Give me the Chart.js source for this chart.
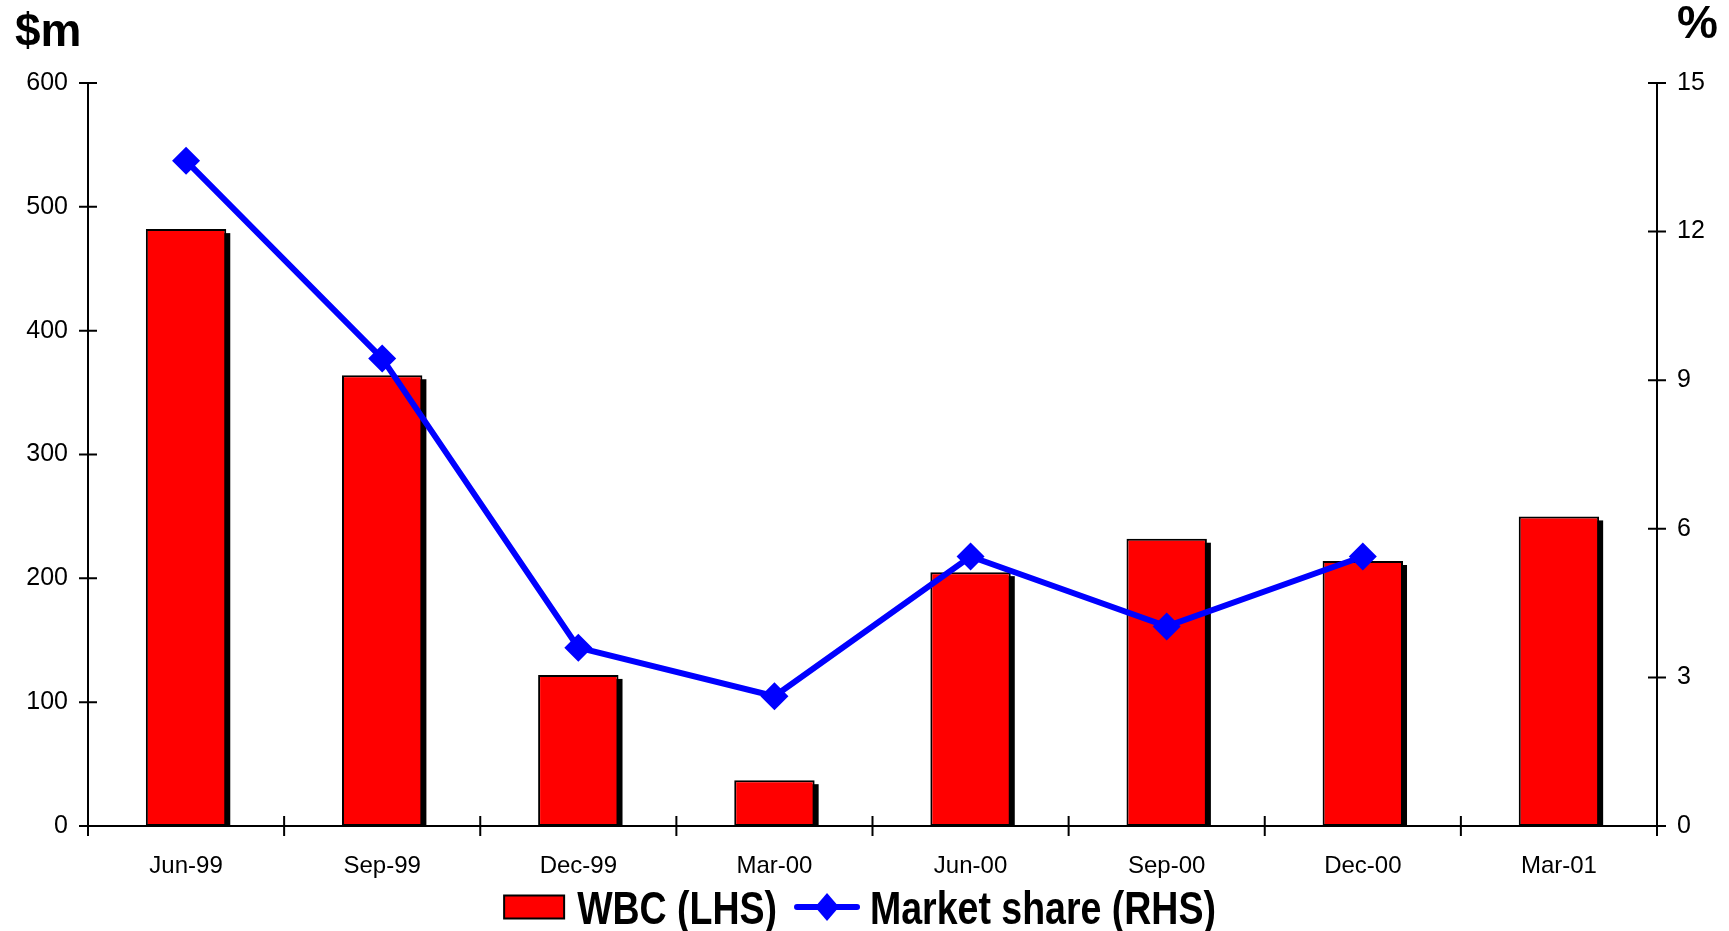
<!DOCTYPE html>
<html>
<head>
<meta charset="utf-8">
<title>WBC and market share</title>
<script src="https://cdn.jsdelivr.net/npm/chart.js@4/dist/chart.umd.min.js"></script>
<style>
  html, body { margin: 0; padding: 0; background: #ffffff; }
  #wrap { width: 1729px; height: 931px; }
</style>
</head>
<body>
<div id="wrap"><canvas id="chart" width="1729" height="931"></canvas></div>
<script>
// Quarter labels along the bottom axis
const categories = ['Jun-99', 'Sep-99', 'Dec-99', 'Mar-00', 'Jun-00', 'Sep-00', 'Dec-00', 'Mar-01'];
// WBC volume, $m (left axis)
const wbcValues = [482, 364, 122, 37, 205, 232, 214, 250];
// Market share, % (right axis); no reading for Mar-01
const marketShare = [13.43, 9.44, 3.6, 2.62, 5.44, 4.03, 5.44, null];
// Axis ranges: [min, max, step]
const leftAxisRange = [0, 600, 100];
const rightAxisRange = [0, 15, 3];
// Axis titles
const leftAxisTitle = '$m';
const rightAxisTitle = '%';

const FONT = '"Liberation Sans", Arial, Helvetica, sans-serif';

// Solid black drop shadow behind each bar, offset down and to the right
const barShadow = {
  id: 'barShadow',
  beforeDatasetDraw(chart, args) {
    if (args.meta.type !== 'bar') return;
    const ctx = chart.ctx;
    const dx = 4, dy = 4;
    ctx.save();
    ctx.fillStyle = '#000000';
    args.meta.data.forEach(el => {
      const p = el.getProps(['x', 'y', 'base', 'width'], true);
      const top = Math.min(p.y, p.base), bottom = Math.max(p.y, p.base);
      ctx.fillRect(p.x - p.width / 2 + dx, top + dy, p.width, bottom - top - dy);
    });
    ctx.restore();
  }
};

// Axis lines with tick marks that cross the line
const axesFrame = {
  id: 'axesFrame',
  afterDatasetsDraw(chart) {
    const { ctx, chartArea: a, scales } = chart;
    ctx.save();
    ctx.strokeStyle = '#000000';
    ctx.lineWidth = 2;
    ctx.lineCap = 'butt';
    ctx.beginPath();
    ctx.moveTo(a.left, a.top); ctx.lineTo(a.left, a.bottom);
    ctx.moveTo(a.right, a.top); ctx.lineTo(a.right, a.bottom);
    ctx.moveTo(a.left, a.bottom); ctx.lineTo(a.right, a.bottom);
    const half = 9;
    scales.y.ticks.forEach((t, i) => {
      const py = scales.y.getPixelForTick(i);
      ctx.moveTo(a.left - half, py); ctx.lineTo(a.left + half, py);
    });
    scales.y1.ticks.forEach((t, i) => {
      const py = scales.y1.getPixelForTick(i);
      ctx.moveTo(a.right - half, py); ctx.lineTo(a.right + half, py);
    });
    const x = scales.x;
    const step = x.getPixelForValue(1) - x.getPixelForValue(0);
    for (let i = 0; i <= categories.length; i++) {
      const px = x.getPixelForValue(0) + (i - 0.5) * step;
      ctx.moveTo(px, a.bottom - 10); ctx.lineTo(px, a.bottom + 10);
    }
    ctx.stroke();
    ctx.restore();
  }
};

// Axis unit titles and the legend row (condensed bold type)
const titlesAndLegend = {
  id: 'titlesAndLegend',
  afterDraw(chart) {
    const { ctx, width } = chart;
    const ds = chart.data.datasets;
    ctx.save();
    ctx.fillStyle = '#000000';
    ctx.textBaseline = 'alphabetic';
    ctx.font = 'bold 46px ' + FONT;
    ctx.textAlign = 'left';
    ctx.fillText(leftAxisTitle, 15, 46);
    ctx.textAlign = 'right';
    ctx.fillText(rightAxisTitle, 1718, 38);

    // legend
    const squeeze = 0.815;
    ctx.font = 'bold 46px ' + FONT;
    ctx.textAlign = 'left';
    const barLabel = ds[1].label, lineLabel = ds[0].label;
    const t1 = ctx.measureText(barLabel).width * squeeze;
    const t2 = ctx.measureText(lineLabel).width * squeeze;
    const sw1 = 62, sw2 = 66, g1 = 12, g2 = 17, g3 = 10;
    const total = sw1 + g1 + t1 + g2 + sw2 + g3 + t2;
    const x0 = width / 2 - 5 - total / 2;
    const cy = 907;
    const drawText = (txt, x) => {
      ctx.save();
      ctx.translate(x, cy + 16.5);
      ctx.scale(squeeze, 1);
      ctx.fillStyle = '#000000';
      ctx.fillText(txt, 0, 0);
      ctx.restore();
    };
    // bar swatch
    ctx.fillStyle = '#000000';
    ctx.fillRect(x0, cy - 12.5, sw1, 25);
    ctx.fillStyle = ds[1].backgroundColor;
    ctx.fillRect(x0 + 2, cy - 10.5, sw1 - 4, 21);
    drawText(barLabel, x0 + sw1 + g1);
    // line swatch
    const x1 = x0 + sw1 + g1 + t1 + g2;
    ctx.strokeStyle = ds[0].borderColor;
    ctx.lineWidth = 6;
    ctx.lineCap = 'round';
    ctx.beginPath();
    ctx.moveTo(x1 + 3, cy); ctx.lineTo(x1 + sw2 - 3, cy);
    ctx.stroke();
    ctx.fillStyle = ds[0].pointBackgroundColor;
    const mx = x1 + sw2 / 2;
    ctx.beginPath();
    ctx.moveTo(mx, cy - 14); ctx.lineTo(mx + 12, cy); ctx.lineTo(mx, cy + 14); ctx.lineTo(mx - 12, cy);
    ctx.closePath();
    ctx.fill();
    drawText(lineLabel, x1 + sw2 + g3);
    ctx.restore();
  }
};

new Chart(document.getElementById('chart'), {
  data: {
    labels: categories,
    datasets: [
      {
        type: 'line',
        label: 'Market share (RHS)',
        data: marketShare,
        yAxisID: 'y1',
        borderColor: '#0000FF',
        backgroundColor: '#0000FF',
        borderWidth: 6,
        tension: 0,
        pointStyle: 'rectRot',
        pointRadius: 14,
        pointHoverRadius: 14,
        pointBackgroundColor: '#0000FF',
        pointBorderColor: '#0000FF',
        pointBorderWidth: 0,
        order: 0
      },
      {
        type: 'bar',
        label: 'WBC (LHS)',
        data: wbcValues,
        yAxisID: 'y',
        backgroundColor: '#FF0000',
        borderColor: '#000000',
        borderWidth: 2,
        borderSkipped: false,
        categoryPercentage: 1,
        barPercentage: 0.41,
        order: 1
      }
    ]
  },
  options: {
    responsive: false,
    animation: false,
    events: [],
    layout: { padding: { top: 83, bottom: 0, left: 0, right: 0 } },
    plugins: {
      legend: { display: false },
      tooltip: { enabled: false },
      title: { display: false }
    },
    scales: {
      x: {
        type: 'category',
        offset: true,
        grid: { display: false },
        border: { display: false },
        ticks: { color: '#000000', font: { family: FONT, size: 24 }, padding: 18, maxRotation: 0, autoSkip: false },
        afterFit(scale) { scale.height = 105; }
      },
      y: {
        type: 'linear',
        position: 'left',
        min: leftAxisRange[0],
        max: leftAxisRange[1],
        grid: { display: false },
        border: { display: false },
        ticks: { stepSize: leftAxisRange[2], color: '#000000', font: { family: FONT, size: 25 }, padding: 12 },
        afterFit(scale) { scale.width = 88; }
      },
      y1: {
        type: 'linear',
        position: 'right',
        min: rightAxisRange[0],
        max: rightAxisRange[1],
        grid: { display: false },
        border: { display: false },
        ticks: { stepSize: rightAxisRange[2], color: '#000000', font: { family: FONT, size: 25 }, padding: 12 },
        afterFit(scale) { scale.width = 72; }
      }
    }
  },
  plugins: [barShadow, axesFrame, titlesAndLegend]
});
</script>
</body>
</html>
